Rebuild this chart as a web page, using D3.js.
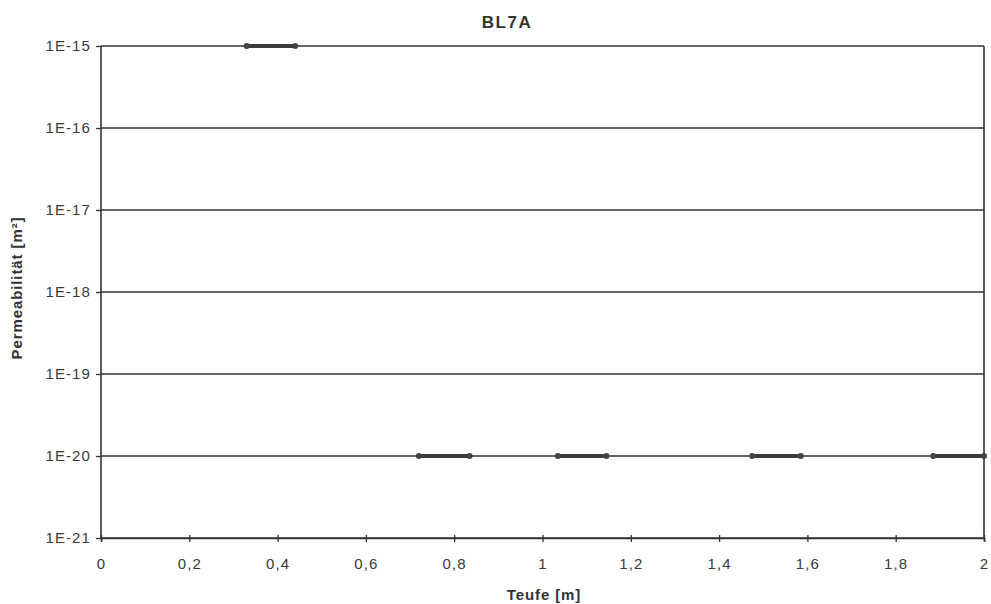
<!DOCTYPE html>
<html><head><meta charset="utf-8">
<script src="https://cdn.jsdelivr.net/npm/d3@7"></script>
<style>body{margin:0;background:#fff}svg{display:block}</style>
</head><body><svg id="c" width="991" height="604"></svg>
<script>
const title = "BL7A";
const xLabel = "Teufe [m]";
const yLabel = "Permeabilität [m²]";
const xTicks = [0,0.2,0.4,0.6,0.8,1,1.2,1.4,1.6,1.8,2];
const yTicks = [1e-15,1e-16,1e-17,1e-18,1e-19,1e-20,1e-21];
const yTickLabels = ["1E-15","1E-16","1E-17","1E-18","1E-19","1E-20","1E-21"];
// segments: [from depth, to depth, permeability]
const segFrom = [0.33, 0.72, 1.035, 1.475, 1.885];
const segTo   = [0.44, 0.835, 1.145, 1.585, 2.0];
const segK    = [1e-15, 1e-20, 1e-20, 1e-20, 1e-20];

const svg = d3.select("#c");
const L=101, R=984, T=46, B=538;
const x = d3.scaleLinear().domain([0,2]).range([L,R]);
const y = d3.scaleLog().domain([1e-21,1e-15]).range([B,T]);
const font = "'Liberation Sans', Arial, sans-serif";
const txt = "#3a3a3a";

// gridlines
svg.append("g").selectAll("line").data(yTicks).join("line")
  .attr("x1",L).attr("x2",R).attr("y1",d=>y(d)).attr("y2",d=>y(d))
  .attr("stroke","#333").attr("stroke-width",1.3);

// border left/right
svg.append("line").attr("x1",L).attr("x2",L).attr("y1",T).attr("y2",B).attr("stroke","#333").attr("stroke-width",1.6);
svg.append("line").attr("x1",R).attr("x2",R).attr("y1",T).attr("y2",B).attr("stroke","#333").attr("stroke-width",1.6);

// y axis
const ya = d3.axisLeft(y).tickValues(yTicks).tickFormat((d,i)=>yTickLabels[i]).tickSize(5).tickPadding(5);
const gy = svg.append("g").attr("transform",`translate(${L},0)`).call(ya);
gy.select(".domain").remove();
gy.selectAll("line").attr("stroke","#333").attr("stroke-width",1.3);
gy.selectAll("text").attr("font-family",font).attr("font-size",15).attr("letter-spacing",1.1).attr("fill",txt);

// x axis
const xa = d3.axisBottom(x).tickValues(xTicks).tickFormat(d=>String(d).replace(".",",")).tickSize(4).tickPadding(16);
const gx = svg.append("g").attr("transform",`translate(0,${B})`).call(xa);
gx.select(".domain").attr("stroke","#333").attr("stroke-width",1.6);
gx.selectAll(".tick line").attr("stroke","#333").attr("stroke-width",1.3).attr("y1",-3);
gx.selectAll("text").attr("font-family",font).attr("font-size",15).attr("letter-spacing",1.1).attr("fill",txt);

// segments
const segs = segFrom.map((f,i)=>({f, t:segTo[i], k:segK[i]}));
const gs = svg.append("g");
gs.selectAll("line").data(segs).join("line")
  .attr("x1",d=>x(d.f)).attr("x2",d=>x(d.t)).attr("y1",d=>y(d.k)).attr("y2",d=>y(d.k))
  .attr("stroke","#3c3c3c").attr("stroke-width",3.8);
const pts = segs.flatMap(d=>[{v:d.f,k:d.k},{v:d.t,k:d.k}]);
gs.selectAll("circle").data(pts).join("circle")
  .attr("cx",d=>x(d.v)).attr("cy",d=>y(d.k)).attr("r",3).attr("fill","#444");

// title & labels
svg.append("text").attr("x",507).attr("y",28).attr("text-anchor","middle")
  .attr("font-family",font).attr("font-weight","bold").attr("font-size",17).attr("letter-spacing",1.5).attr("fill","#333").text(title);
svg.append("text").attr("x",544).attr("y",600).attr("text-anchor","middle")
  .attr("font-family",font).attr("font-weight","bold").attr("font-size",15).attr("letter-spacing",0.9).attr("fill","#333").text(xLabel);
svg.append("text").attr("transform","translate(22,288) rotate(-90)").attr("text-anchor","middle")
  .attr("font-family",font).attr("font-weight","bold").attr("font-size",15).attr("letter-spacing",0.9).attr("fill","#333").text(yLabel);
</script></body></html>
